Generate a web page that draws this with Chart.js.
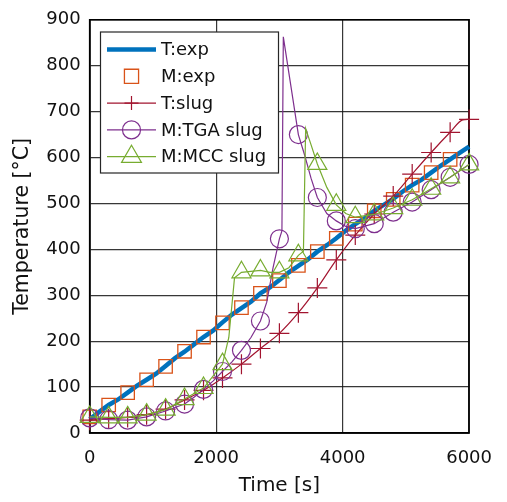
<!DOCTYPE html>
<html>
<head>
<meta charset="utf-8">
<script src="https://cdn.jsdelivr.net/npm/chart.js@4/dist/chart.umd.min.js"></script>
<style>
  html, body { margin: 0; padding: 0; background: #ffffff; }
  #wrap { width: 507px; height: 502px; }
</style>
</head>
<body>
<div id="wrap"><canvas id="c" width="507" height="502"></canvas></div>
<script>
// ---------- data ----------
const xTicks = [0, 2000, 4000, 6000];
const yTicks = [0, 100, 200, 300, 400, 500, 600, 700, 800, 900];

const seriesLabels = ['T:exp', 'M:exp', 'T:slug', 'M:TGA slug', 'M:MCC slug'];

// T:exp (thick blue line)
const tExpTime = [0,150,300,450,600,750,900,1050,1200,1350,1500,1650,1800,1950,2100,2250,2400,2550,2700,2850,3000,
                  3150,3300,3450,3600,3750,3900,4050,4200,4350,4500,4650,4800,4950,5100,5250,5400,5550,5700,5850,6000];
const tExpTemp = [30,46,61,73,88,103,116,129,146,163,177,193,209,223,241,258,272,286,304,317,333,
                  350,364,378,395,409,424,441,455,468,484,497,510,526,540,552,567,582,596,610,624];

// M:exp (squares only)
const mExpTime = [0,300,600,900,1200,1500,1800,2100,2400,2700,3000,3300,3600,3900,4200,4500,4800,5100,5400,5700];
const mExpTemp = [35,61,88,116,145,178,209,240,273,304,332,365,395,424,455,484,509,540,567,596];

// T:slug (red line, + markers)
const tSlugTime = [0,300,600,900,1200,1500,1800,2100,2400,2700,3000,3300,3600,3900,4200,4500,4800,5100,5400,5700,5900,6000];
const tSlugTemp = [28,31,34,40,52,72,93,120,150,184,217,262,316,377,431,477,516,564,611,655,682,683];

// M:TGA slug (purple line, circles)
const tgaTime = [0,300,600,900,1200,1500,1650,1800,1950,2100,2250,2400,2550,2700,2800,2900,3000,3040,3062,3300,3400,3500,3600,3750,3900,4050,4200,4500,4800,5100,5400,5700,6000];
const tgaTemp = [33,29,28,35,48,63,78,95,113,134,155,180,208,244,285,360,423,440,863,650,605,555,513,478,462,450,445,456,481,503,530,557,585];

// M:MCC slug (green line, triangles)
const mccTime = [0,300,600,900,1200,1500,1800,2100,2200,2250,2290,2400,2550,2700,2850,3000,3150,3300,3380,3415,3500,3600,3750,3900,4050,4200,4500,4800,5100,5400,5700,6000];
const mccTemp = [35,34,34,40,51,74,98,150,208,280,338,350,352,354,350,350,360,387,396,663,628,586,535,497,478,470,476,490,508,532,557,585];

// ---------- helpers ----------
const pts = (xs, ys) => xs.map((x, i) => ({ x: x, y: ys[i] }));
const markEvery300 = (r) => (ctx) => {
  const p = ctx.raw;
  return (p && p.x % 300 === 0) ? r : 0;
};

const FONT = "'DejaVu Sans', sans-serif";
const TXT = '#111111';
const colors = {
  blue: '#0072BD', orange: '#D95319', red: '#A2142F', purple: '#7E2F8E', green: '#77AC30'
};

const datasets = [
  { label: seriesLabels[0], data: pts(tExpTime, tExpTemp), showLine: true, borderColor: colors.blue,
    backgroundColor: colors.blue, borderWidth: 4.5, pointRadius: 0, tension: 0, order: 5, clip: false,
    _legend: { line: true, style: false } },
  { label: seriesLabels[1], data: pts(mExpTime, mExpTemp), showLine: false, borderColor: colors.orange,
    backgroundColor: 'rgba(0,0,0,0)', pointStyle: 'rect', pointRadius: 9.5, pointBorderWidth: 1.3,
    pointBorderColor: colors.orange, order: 4, clip: false,
    _legend: { line: false, style: 'rect', r: 10 } },
  { label: seriesLabels[2], data: pts(tSlugTime, tSlugTemp), showLine: true, borderColor: colors.red,
    backgroundColor: 'rgba(0,0,0,0)', borderWidth: 1.2, pointStyle: 'cross', pointRadius: markEvery300(10),
    pointBorderWidth: 1.2, pointBorderColor: colors.red, cubicInterpolationMode: 'monotone', order: 3, clip: false,
    _legend: { line: true, style: 'cross', r: 7 } },
  { label: seriesLabels[3], data: pts(tgaTime, tgaTemp), showLine: true, borderColor: colors.purple,
    backgroundColor: 'rgba(0,0,0,0)', borderWidth: 1.2, pointStyle: 'circle', pointRadius: markEvery300(9),
    pointBorderWidth: 1.2, pointBorderColor: colors.purple, tension: 0, order: 2, clip: false,
    _legend: { line: true, style: 'circle', r: 9 } },
  { label: seriesLabels[4], data: pts(mccTime, mccTemp), showLine: true, borderColor: colors.green,
    backgroundColor: 'rgba(0,0,0,0)', borderWidth: 1.2, pointStyle: 'triangle', pointRadius: markEvery300(11),
    pointBorderWidth: 1.2, pointBorderColor: colors.green, tension: 0, order: 1, clip: false,
    _legend: { line: true, style: 'triangle', r: 11.5 } }
];

// frame around the plot area
const framePlugin = {
  id: 'frame',
  beforeDatasetsDraw(chart) {
    const { ctx, chartArea: a } = chart;
    ctx.save();
    ctx.strokeStyle = '#000';
    ctx.lineWidth = 1.6;
    ctx.strokeRect(a.left, a.top, a.right - a.left, a.bottom - a.top);
    ctx.restore();
  }
};

// legend box drawn inside the plot area (upper left)
const legendPlugin = {
  id: 'insideLegend',
  afterDraw(chart) {
    const { ctx } = chart;
    const box = { x: 100.5, y: 32, w: 178, h: 141 };
    ctx.save();
    ctx.fillStyle = '#fff';
    ctx.fillRect(box.x, box.y, box.w, box.h);
    ctx.strokeStyle = '#262626';
    ctx.lineWidth = 1.2;
    ctx.strokeRect(box.x, box.y, box.w, box.h);
    const x0 = 107, x1 = 156, xm = 131.5, xt = 161;
    chart.data.datasets.forEach((ds, i) => {
      const y = 49.5 + i * 26.8;
      const lg = ds._legend;
      if (lg.line) {
        ctx.beginPath();
        ctx.strokeStyle = ds.borderColor;
        ctx.lineWidth = ds.borderWidth;
        ctx.moveTo(x0, y);
        ctx.lineTo(x1, y);
        ctx.stroke();
      }
      if (lg.style) {
        ctx.strokeStyle = ds.pointBorderColor;
        ctx.fillStyle = 'rgba(0,0,0,0)';
        ctx.lineWidth = ds.pointBorderWidth;
        Chart.helpers.drawPoint(ctx, { pointStyle: lg.style, radius: lg.r, rotation: 0, borderWidth: ds.pointBorderWidth }, xm, y);
      }
      ctx.fillStyle = TXT;
      ctx.font = '18px ' + FONT;
      ctx.textAlign = 'left';
      ctx.textBaseline = 'middle';
      ctx.fillText(ds.label, xt, y + 1);
    });
    ctx.restore();
  }
};

new Chart(document.getElementById('c'), {
  type: 'scatter',
  data: { datasets: datasets },
  plugins: [framePlugin, legendPlugin],
  options: {
    responsive: false,
    animation: false,
    devicePixelRatio: 1,
    layout: { padding: { left: 0, top: 15.5, right: 25, bottom: 0 } },
    plugins: { legend: { display: false }, tooltip: { enabled: false } },
    scales: {
      x: {
        type: 'linear', min: 0, max: 6000,
        afterBuildTicks: (s) => { s.ticks = xTicks.map(v => ({ value: v })); },
        afterFit: (s) => { s.height = 69; },
        grid: { color: 'rgba(20,20,20,0.85)', lineWidth: 1.2, drawTicks: false },
        border: { display: true, color: '#000', width: 1.6 },
        ticks: { color: TXT, font: { family: FONT, size: 18 }, padding: 15, maxRotation: 0,
                 callback: (v) => String(v) },
        title: { display: true, text: 'Time [s]', color: TXT,
                 font: { family: FONT, size: 20, lineHeight: 1.2 }, padding: { top: 0, bottom: 4 } }
      },
      y: {
        type: 'linear', min: 0, max: 900,
        afterBuildTicks: (s) => { s.ticks = yTicks.map(v => ({ value: v })); },
        afterFit: (s) => { s.width = 89.7; },
        grid: { color: 'rgba(20,20,20,0.85)', lineWidth: 1.2, drawTicks: false },
        border: { display: true, color: '#000', width: 1.6 },
        ticks: { color: TXT, font: { family: FONT, size: 18 }, padding: 9,
                 callback: (v) => String(v) },
        title: { display: true, text: 'Temperature [°C]', color: TXT,
                 font: { family: FONT, size: 20.5, lineHeight: 1.2 }, padding: { top: 10.7, bottom: 0 } }
      }
    }
  }
});
</script>
</body>
</html>
